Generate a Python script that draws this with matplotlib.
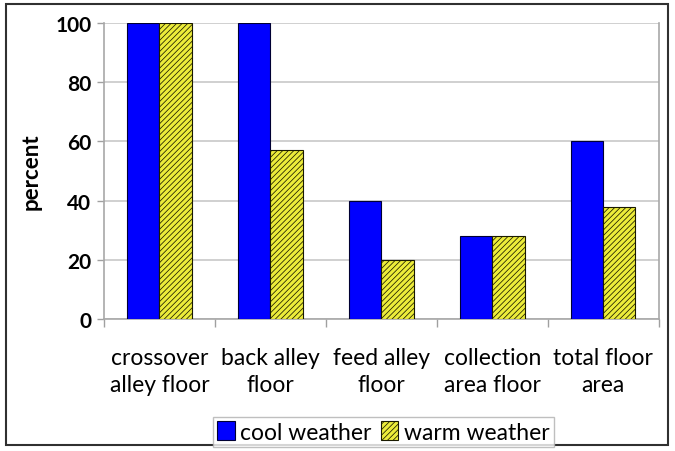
import numpy as np
import matplotlib.pyplot as plt
from matplotlib.patches import Rectangle

categories = ['crossover\nalley floor', 'back alley\nfloor', 'feed alley\nfloor',
              'collection\narea floor', 'total floor\narea']
cool = [100, 100, 40, 28, 60]
warm = [100, 57, 20, 28, 38]
yticks = [0, 20, 40, 60, 80, 100]

plt.rcParams['font.family'] = ['Lato', 'DejaVu Sans']
plt.rcParams['hatch.linewidth'] = 0.55
plt.rcParams['hatch.color'] = '#1a1a00'

fig = plt.figure(figsize=(6.75, 4.52), dpi=100)
ax = fig.add_axes([0.154, 0.292, 0.822, 0.655])

x = np.arange(len(categories))
w = 0.29
ax.bar(x - w / 2, cool, w, color='#0000ff', edgecolor='#000033', lw=0.8,
       label='cool weather', zorder=3)
ax.bar(x + w / 2, warm, w, color='#ecec3a', edgecolor='#1a1a00', lw=0.8,
       hatch='//////', label='warm weather', zorder=3)

ax.set_xlim(-0.5, len(categories) - 0.5)
ax.set_ylim(0, 100)
ax.set_yticks(yticks)
ax.set_yticklabels([str(v) for v in yticks], fontsize=15, fontweight='bold')
ax.tick_params(axis='y', length=5, color='#a0a0a0', width=1, pad=4)
ax.grid(axis='y', color='#c8c8c8', lw=1.2, zorder=0)

# category labels centred, tick marks between groups
ax.set_xticks(x)
ax.set_xticklabels(categories, fontsize=16.5, linespacing=1.35)
ax.tick_params(axis='x', length=0, pad=20)
ax.set_xticks(np.arange(len(categories) + 1) - 0.5, minor=True)
ax.tick_params(axis='x', which='minor', length=6, color='#a0a0a0', width=1)

for s in ['left', 'bottom', 'right']:
    ax.spines[s].set_color('#a8a8a8')
    ax.spines[s].set_linewidth(1.2)
ax.spines['top'].set_visible(False)

ax.set_ylabel('percent', fontsize=16, fontweight='bold', labelpad=10)

leg = fig.legend(loc='center', bbox_to_anchor=(0.568, 0.042), ncol=2,
                 fontsize=16.5, frameon=True, fancybox=False, edgecolor='#b0b0b0',
                 handlelength=0.75, handleheight=0.85, handletextpad=0.25,
                 columnspacing=0.4, borderpad=0.2)
leg.get_frame().set_linewidth(1.0)

# outer frame
fig.patches.append(Rectangle((6 / 675, 6 / 452), 662 / 675, 441 / 452,
                             transform=fig.transFigure, fill=False,
                             edgecolor='#303030', lw=1.5))

fig.savefig('out.png', dpi=100)
